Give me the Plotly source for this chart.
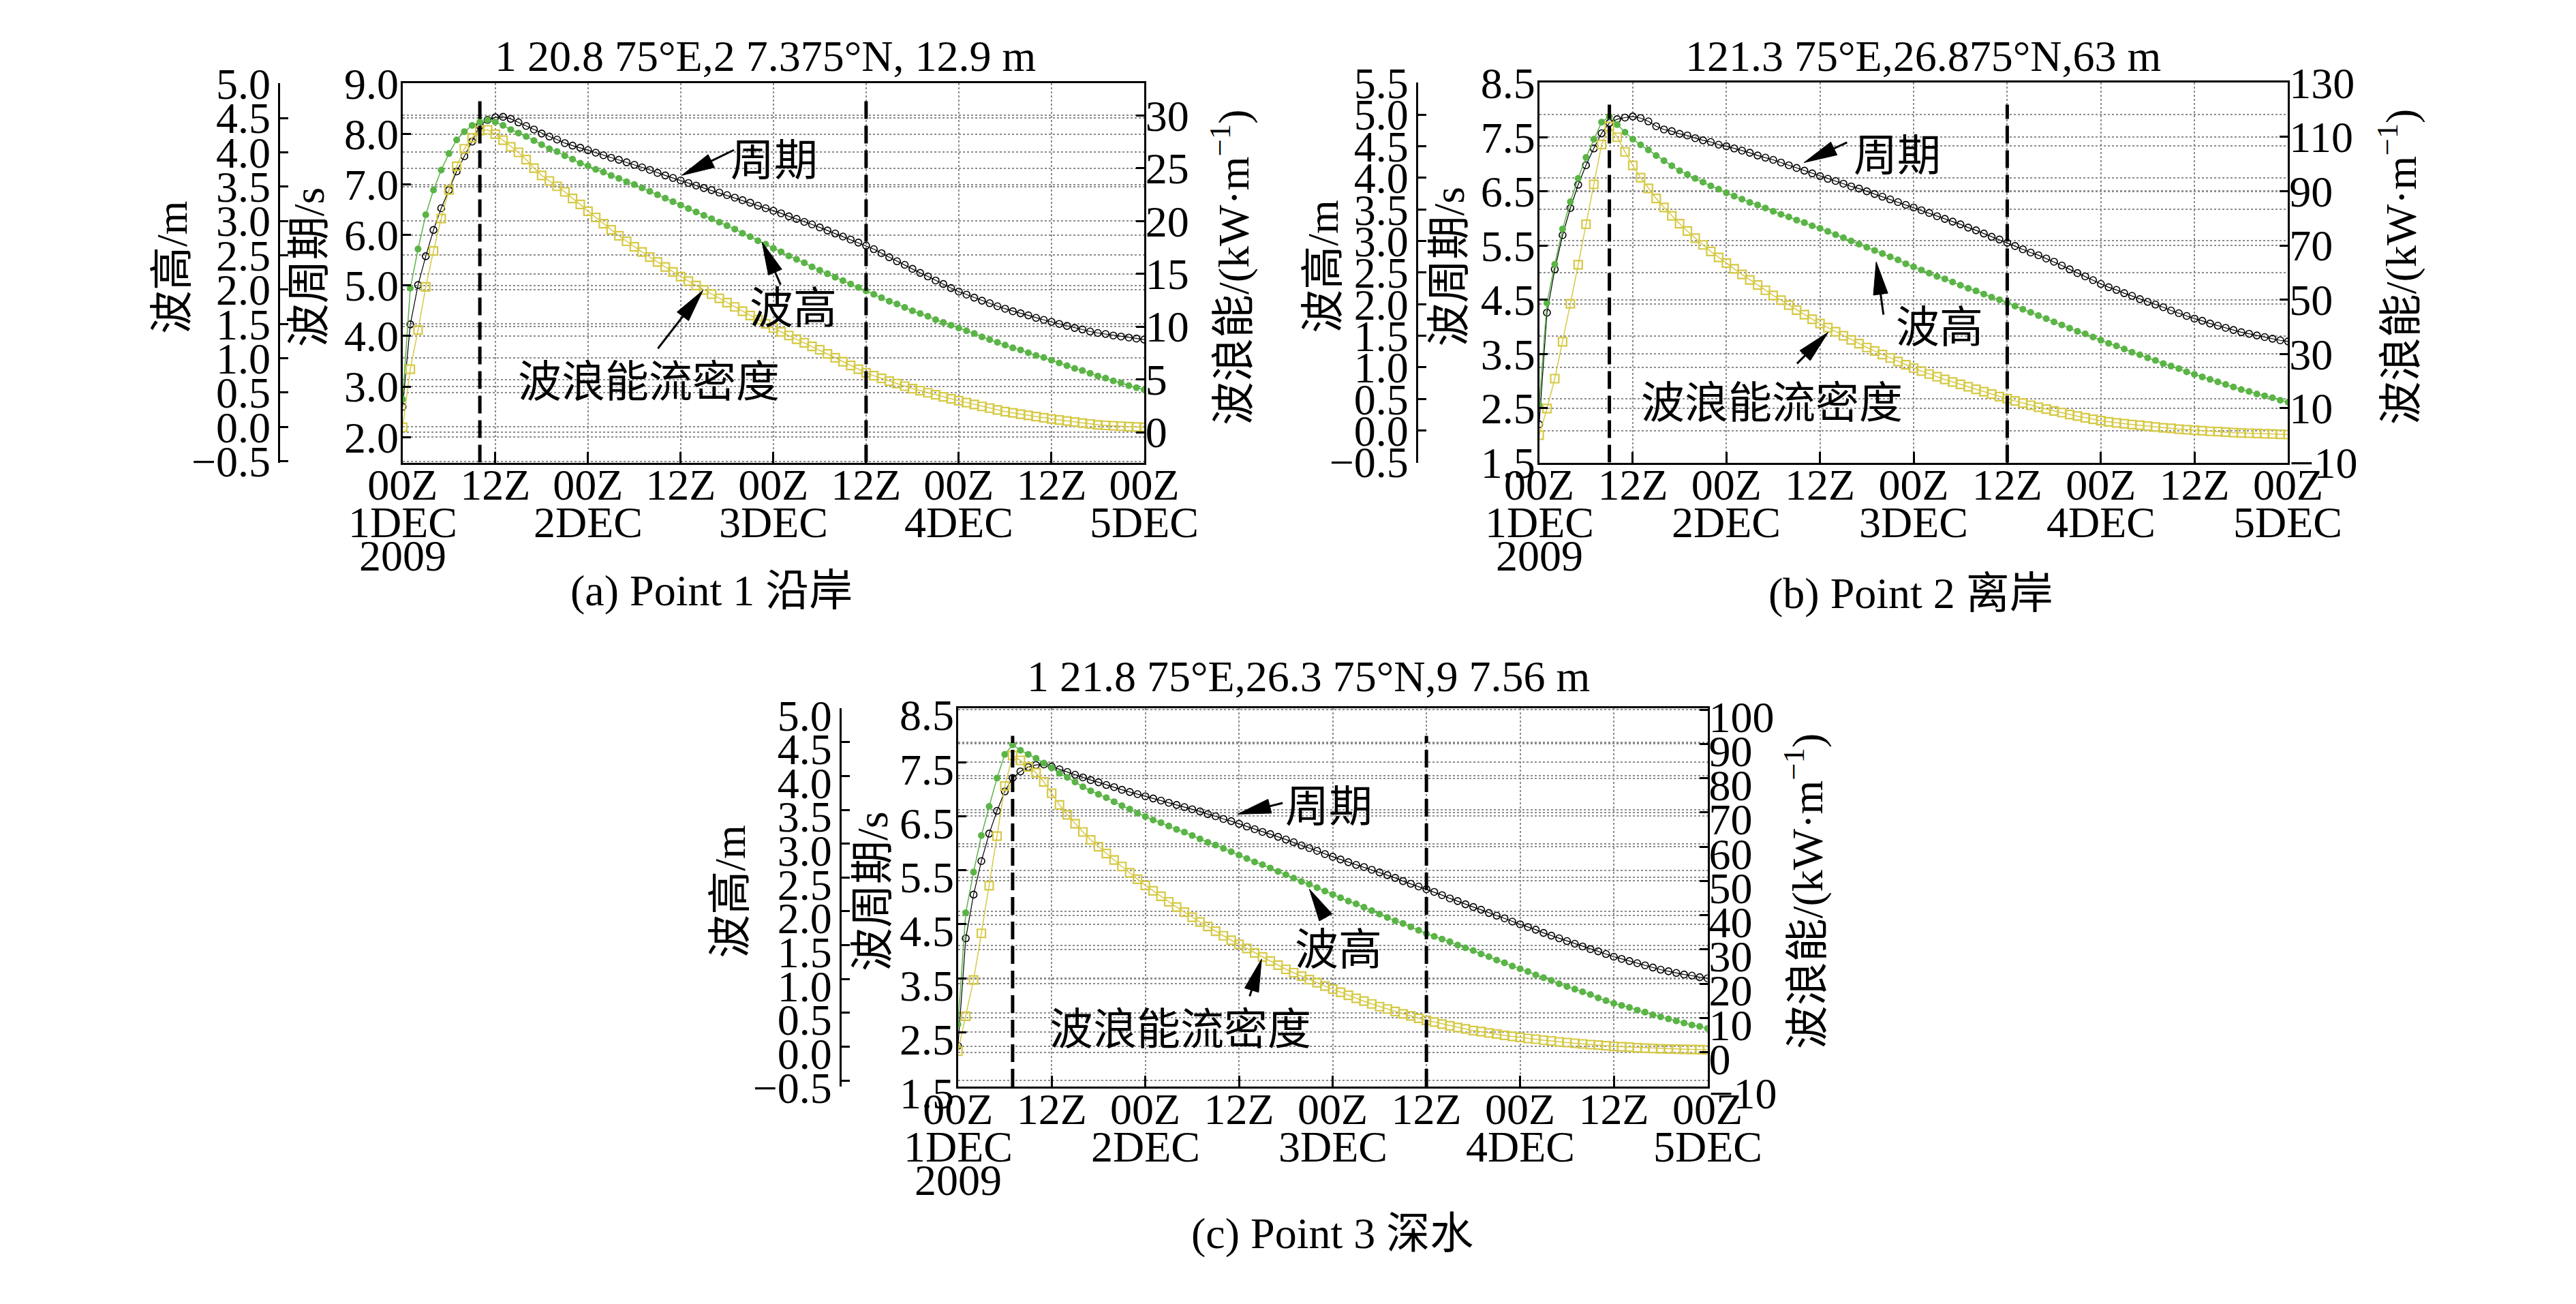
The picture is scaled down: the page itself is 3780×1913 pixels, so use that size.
import math
import plotly.graph_objects as go

W, H = 3780, 1913
FONT = "Liberation Serif, Noto Sans CJK SC"
BLACK = "#000000"
GREEN = "#5ab446"
YELLOW = "#d6c945"
GRID = "#8c8c8c"

# hourly samples, 00Z 1 DEC 2009 .. 00Z 5 DEC 2009
hours = list(range(97))
x_ticks = list(range(0, 97, 12))
x_tick_text = ["00Z", "12Z", "00Z", "12Z", "00Z", "12Z", "00Z", "12Z", "00Z"]
day_ticks = [0, 24, 48, 72, 96]
day_text = ["1DEC", "2DEC", "3DEC", "4DEC", "5DEC"]
year_text = "2009"

y_titles = ["波高/m", "波周期/s", "波浪能/(kW·m<sup>−1</sup>)"]
note_text = ["周期", "波高", "波浪能流密度"]

# Point 1 (coastal)
p1_period = [2.60, 4.23, 5.01, 5.58, 6.10, 6.53, 6.89, 7.26, 7.56, 7.85, 8.16, 8.28, 8.33,
             8.34, 8.30, 8.23, 8.16, 8.09, 8.01, 7.95, 7.89, 7.82, 7.77, 7.73, 7.68,
             7.63, 7.58, 7.53, 7.49, 7.44, 7.39,
             7.34, 7.29, 7.23, 7.18, 7.13, 7.08,
             7.03, 6.98, 6.93, 6.89, 6.84, 6.79,
             6.74, 6.69, 6.64, 6.58, 6.53, 6.48,
             6.43, 6.37, 6.32, 6.26, 6.21, 6.15,
             6.09, 6.03, 5.97, 5.91, 5.85, 5.79,
             5.72, 5.64, 5.56, 5.48, 5.41, 5.33,
             5.25, 5.18, 5.10, 5.03, 4.95, 4.88,
             4.82, 4.76, 4.70, 4.65, 4.59, 4.54,
             4.49, 4.45, 4.41, 4.36, 4.32, 4.28,
             4.24, 4.20, 4.16, 4.13, 4.09, 4.06,
             4.04, 4.01, 3.99, 3.97, 3.95, 3.93]
p1_height = [0.40, 2.02, 2.59, 3.09, 3.45, 3.74, 3.98, 4.18, 4.30, 4.39, 4.44, 4.47, 4.44,
             4.39, 4.33, 4.28, 4.23, 4.17, 4.11, 4.05, 4.01, 3.95, 3.90, 3.84, 3.80,
             3.75, 3.71, 3.66, 3.62, 3.57, 3.53,
             3.48, 3.43, 3.38, 3.33, 3.28, 3.23,
             3.18, 3.13, 3.08, 3.03, 2.98, 2.93,
             2.88, 2.82, 2.77, 2.71, 2.66, 2.60,
             2.55, 2.49, 2.44, 2.39, 2.33, 2.28,
             2.23, 2.18, 2.13, 2.08, 2.03, 1.98,
             1.93, 1.88, 1.83, 1.79, 1.74, 1.69,
             1.65, 1.61, 1.56, 1.52, 1.48, 1.44,
             1.40, 1.36, 1.31, 1.27, 1.23, 1.19,
             1.15, 1.12, 1.08, 1.04, 1.01, 0.97,
             0.93, 0.89, 0.85, 0.82, 0.78, 0.74,
             0.71, 0.67, 0.64, 0.60, 0.57, 0.54]
p1_power = [0.46, 5.96, 9.68, 13.76, 17.16, 20.23, 22.94, 25.18, 26.83, 27.87, 28.55, 28.62, 28.21,
            27.64, 27.02, 26.49, 25.80, 25.00, 24.31, 23.78, 23.28, 22.75, 22.13, 21.56, 20.92,
            20.33, 19.74, 19.16, 18.60, 18.07, 17.55,
            17.06, 16.58, 16.11, 15.64, 15.18, 14.72,
            14.30, 13.88, 13.47, 13.07, 12.67, 12.27,
            11.86, 11.45, 11.05, 10.65, 10.25, 9.86,
            9.50, 9.15, 8.80, 8.46, 8.13, 7.80,
            7.42, 7.05, 6.68, 6.32, 5.97, 5.62,
            5.35, 5.09, 4.84, 4.60, 4.36, 4.13,
            3.93, 3.73, 3.54, 3.35, 3.16, 2.98,
            2.80, 2.62, 2.44, 2.28, 2.11, 1.95,
            1.83, 1.71, 1.59, 1.48, 1.37, 1.26,
            1.16, 1.06, 0.96, 0.87, 0.78, 0.69,
            0.65, 0.61, 0.57, 0.53, 0.49, 0.46]
p1_events = [10, 60]

# Point 2 (offshore)
p2_period = [2.20, 4.26, 5.06, 5.69, 6.19, 6.62, 6.98, 7.29, 7.57, 7.76, 7.83, 7.86, 7.88,
             7.85, 7.79, 7.70, 7.64, 7.61, 7.56, 7.53, 7.48, 7.44, 7.41, 7.36, 7.33,
             7.29, 7.25, 7.21, 7.16, 7.12, 7.08,
             7.03, 6.98, 6.93, 6.88, 6.83, 6.78,
             6.73, 6.69, 6.64, 6.59, 6.55, 6.50,
             6.45, 6.40, 6.35, 6.30, 6.25, 6.20,
             6.15, 6.10, 6.04, 5.99, 5.94, 5.89,
             5.83, 5.78, 5.72, 5.66, 5.61, 5.55,
             5.49, 5.43, 5.37, 5.32, 5.26, 5.20,
             5.13, 5.06, 4.99, 4.93, 4.86, 4.79,
             4.73, 4.68, 4.62, 4.57, 4.51, 4.46,
             4.41, 4.36, 4.30, 4.25, 4.20, 4.15,
             4.11, 4.06, 4.02, 3.98, 3.94, 3.90,
             3.87, 3.84, 3.81, 3.78, 3.75, 3.73]
p2_height = [0.41, 2.02, 2.63, 3.19, 3.62, 3.99, 4.32, 4.61, 4.88, 4.97, 4.84, 4.72, 4.61,
             4.52, 4.44, 4.35, 4.27, 4.19, 4.11, 4.05, 3.99, 3.93, 3.87, 3.82, 3.76,
             3.71, 3.66, 3.61, 3.57, 3.52, 3.47,
             3.42, 3.38, 3.33, 3.29, 3.24, 3.20,
             3.15, 3.10, 3.05, 3.00, 2.95, 2.90,
             2.85, 2.80, 2.75, 2.70, 2.64, 2.59,
             2.54, 2.49, 2.44, 2.40, 2.35, 2.30,
             2.25, 2.21, 2.16, 2.11, 2.07, 2.02,
             1.97, 1.92, 1.87, 1.82, 1.77, 1.72,
             1.67, 1.62, 1.57, 1.53, 1.48, 1.43,
             1.38, 1.34, 1.29, 1.24, 1.20, 1.15,
             1.11, 1.06, 1.02, 0.98, 0.93, 0.89,
             0.85, 0.81, 0.77, 0.73, 0.69, 0.65,
             0.62, 0.58, 0.55, 0.52, 0.48, 0.45]
p2_power = [0.1, 9.9, 20.9, 34.5, 48.5, 62.9, 77.8, 92.5, 107.2, 113.9, 109.9, 104.5, 99.5,
            95.0, 91.0, 87.3, 84.0, 80.9, 78.0, 75.3, 72.7, 70.2, 67.8, 65.6, 63.5,
            61.4, 59.3, 57.3, 55.4, 53.5, 51.6,
            49.8, 48.0, 46.2, 44.5, 42.8, 41.2,
            39.7, 38.2, 36.7, 35.2, 33.8, 32.4,
            31.1, 29.8, 28.5, 27.2, 26.0, 24.8,
            23.7, 22.6, 21.6, 20.6, 19.7, 18.8,
            17.9, 17.0, 16.1, 15.2, 14.3, 13.5,
            12.7, 11.9, 11.1, 10.4, 9.7, 9.0,
            8.4, 7.7, 7.1, 6.5, 5.9, 5.4,
            5.0, 4.6, 4.3, 4.0, 3.7, 3.4,
            3.1, 2.8, 2.6, 2.3, 2.1, 1.9,
            1.7, 1.5, 1.4, 1.2, 1.0, 0.9,
            0.8, 0.7, 0.6, 0.5, 0.4, 0.3]
p2_events = [9, 60]

# Point 3 (deep water)
p3_period = [2.25, 4.24, 5.05, 5.67, 6.18, 6.60, 6.96, 7.21, 7.33, 7.41, 7.45, 7.46, 7.42,
             7.37, 7.32, 7.27, 7.22, 7.17, 7.13, 7.08, 7.04, 6.99, 6.95, 6.91, 6.87,
             6.83, 6.79, 6.75, 6.71, 6.67, 6.63,
             6.59, 6.54, 6.50, 6.45, 6.41, 6.36,
             6.31, 6.26, 6.21, 6.17, 6.12, 6.07,
             6.02, 5.96, 5.91, 5.86, 5.80, 5.75,
             5.70, 5.65, 5.60, 5.56, 5.51, 5.46,
             5.41, 5.36, 5.30, 5.25, 5.20, 5.15,
             5.10, 5.04, 4.98, 4.93, 4.87, 4.82,
             4.77, 4.71, 4.66, 4.61, 4.55, 4.50,
             4.45, 4.40, 4.34, 4.29, 4.24, 4.19,
             4.14, 4.09, 4.04, 4.00, 3.95, 3.90,
             3.86, 3.82, 3.78, 3.74, 3.70, 3.66,
             3.63, 3.60, 3.57, 3.55, 3.52, 3.50]
p3_height = [0.33, 1.98, 2.58, 3.12, 3.55, 3.97, 4.32, 4.46, 4.38, 4.32, 4.26, 4.19, 4.12,
             4.04, 3.98, 3.91, 3.84, 3.78, 3.73, 3.68, 3.62, 3.56, 3.51, 3.45, 3.40,
             3.35, 3.31, 3.26, 3.21, 3.17, 3.12,
             3.07, 3.02, 2.98, 2.93, 2.88, 2.83,
             2.78, 2.73, 2.69, 2.64, 2.59, 2.54,
             2.49, 2.44, 2.40, 2.35, 2.30, 2.25,
             2.20, 2.15, 2.11, 2.06, 2.01, 1.96,
             1.91, 1.86, 1.82, 1.77, 1.72, 1.67,
             1.63, 1.59, 1.55, 1.50, 1.46, 1.42,
             1.37, 1.33, 1.28, 1.24, 1.19, 1.15,
             1.11, 1.06, 1.02, 0.98, 0.93, 0.89,
             0.85, 0.81, 0.77, 0.72, 0.68, 0.64,
             0.61, 0.58, 0.54, 0.51, 0.47, 0.44,
             0.41, 0.38, 0.35, 0.32, 0.30, 0.27]
p3_power = [0.3, 10.5, 21.1, 34.7, 48.6, 63.1, 77.7, 86.6, 85.2, 83.3, 81.6, 78.9, 75.6,
            72.2, 69.3, 66.7, 64.3, 62.0, 60.0, 58.0, 56.1, 54.2, 52.4, 50.5, 48.7,
            47.1, 45.5, 43.9, 42.4, 40.9, 39.4,
            38.0, 36.7, 35.3, 34.0, 32.7, 31.5,
            30.3, 29.0, 27.8, 26.6, 25.4, 24.2,
            23.2, 22.2, 21.2, 20.3, 19.3, 18.4,
            17.5, 16.6, 15.7, 14.9, 14.1, 13.3,
            12.6, 11.9, 11.2, 10.6, 9.9, 9.3,
            8.8, 8.2, 7.7, 7.2, 6.8, 6.3,
            6.0, 5.6, 5.3, 4.9, 4.6, 4.3,
            4.0, 3.8, 3.5, 3.3, 3.0, 2.8,
            2.6, 2.4, 2.2, 2.1, 1.9, 1.7,
            1.6, 1.5, 1.3, 1.2, 1.1, 1.0,
            0.95, 0.9, 0.85, 0.8, 0.75, 0.7]
p3_events = [7, 60]

# layout of each panel (pixel boxes in the 3780x1913 page)
panels = [
    dict(period=p1_period, height=p1_height, power=p1_power, events=p1_events, event_top=8.66,
         title="1 20.8 75°E,2 7.375°N, 12.9 m", title_xy=(1101, 50),
         caption="(a) Point 1 沿岸", caption_xy=(1020, 868),
         box=(554, 91, 1673, 672), spine=367, title_dx=(-161, -141, 130), label_shift=0,
         period_axis=dict(range=[1.495, 9.005], tick0=2, dtick=1),
         height_axis=dict(range=[-0.52, 5.005], tick0=0, dtick=0.5),
         power_axis=dict(range=[-2.87, 33.03], tick0=0, dtick=5),
         notes=[(36.12, 7.18, 0, (79, -39), (136, -22)),
                (46.53, 2.69, 1, (28, 65), (46, 97)),
                (38.88, 13.42, 2, (-68, 89), (-79, 134))]),
    dict(period=p2_period, height=p2_height, power=p2_power, events=p2_events, event_top=8.10,
         title="121.3 75°E,26.875°N,63 m", title_xy=(2848, 50),
         caption="(b) Point 2 离岸", caption_xy=(2830, 872),
         box=(2269, 90, 3399, 672), spine=2084, title_dx=(-141, -136, 165), label_shift=0,
         period_axis=dict(range=[1.495, 8.505], tick0=1.5, dtick=1),
         height_axis=dict(range=[-0.505, 5.505], tick0=0, dtick=0.5),
         power_axis=dict(range=[-10.01, 130.01], tick0=-10, dtick=20),
         notes=[(33.95, 7.03, 0, (65, -31), (137, -10)),
                (43.2, 2.67, 1, (11, 81), (93, 96)),
                (37.05, 38.0, 2, (-47, 48), (-83, 104))]),
    dict(period=p3_period, height=p3_height, power=p3_power, events=p3_events, event_top=7.99,
         title="1 21.8 75°E,26.3 75°N,9 7.56 m", title_xy=(1921, 1000),
         caption="(c) Point 3 深水", caption_xy=(1957, 1853),
         box=(1392, 1048, 2523, 1628), spine=1214, title_dx=(-165, -129, 146), label_shift=10,
         period_axis=dict(range=[1.495, 8.505], tick0=1.5, dtick=1),
         height_axis=dict(range=[-0.59, 5.005], tick0=0, dtick=0.5),
         power_axis=dict(range=[-10.05, 100.5], tick0=0, dtick=10),
         notes=[(35.82, 6.54, 0, (68, -17), (134, -11)),
                (45.0, 2.33, 1, (25, 44), (43, 89)),
                (38.89, 27.2, 2, (-18, 57), (-119, 104))]),
]
axis_keys = ["period_axis", "height_axis", "power_axis"]

tick_font = dict(family=FONT, size=64, color=BLACK)
axis_common = dict(showline=True, linecolor=BLACK, linewidth=3, ticks="inside", ticklen=12,
                   tickwidth=3, tickcolor=BLACK, showgrid=True, gridcolor=GRID, griddash="dot",
                   gridwidth=2, zeroline=False, tickfont=tick_font)


def to_px(p, k, h, v):
    left, top, right, bottom = p["box"]
    r0, r1 = p[axis_keys[k]]["range"]
    return left + h / 96 * (right - left), top + (r1 - v) / (r1 - r0) * (bottom - top)


def to_data(p, k, x, y):
    left, top, right, bottom = p["box"]
    r0, r1 = p[axis_keys[k]]["range"]
    return (x - left) / (right - left) * 96, r1 - (y - top) / (bottom - top) * (r1 - r0)


fig = go.Figure()
layout = {}
annotations = []
shapes = []

for i, p in enumerate(panels):
    n = i + 1
    xa = "x" if n == 1 else f"x{n}"
    xkey = "xaxis" if n == 1 else f"xaxis{n}"
    ids = [3 * i + 1, 3 * i + 2, 3 * i + 3]
    ya = ["y" if k == 1 else f"y{k}" for k in ids]
    ykey = ["yaxis" if k == 1 else f"yaxis{k}" for k in ids]
    left, top, right, bottom = p["box"]
    xdom = [left / W, right / W]
    ydom = [1 - bottom / H, 1 - top / H]
    shift_y = p["label_shift"]

    # period (black), wave height (green), energy flux (yellow)
    fig.add_trace(go.Scatter(x=hours, y=p["period"], xaxis=xa, yaxis=ya[0], mode="lines+markers",
                             line=dict(color=BLACK, width=1.2),
                             marker=dict(symbol="circle-open", size=10, color=BLACK, line=dict(width=1.6))))
    fig.add_trace(go.Scatter(x=hours, y=p["height"], xaxis=xa, yaxis=ya[1], mode="lines+markers",
                             line=dict(color=GREEN, width=1.5),
                             marker=dict(symbol="circle", size=10, color=GREEN)))
    fig.add_trace(go.Scatter(x=hours, y=p["power"], xaxis=xa, yaxis=ya[2], mode="lines+markers",
                             line=dict(color=YELLOW, width=1.5),
                             marker=dict(symbol="square-open", size=12, color=YELLOW, line=dict(width=2.2))))

    layout[xkey] = dict(axis_common, domain=xdom, anchor=ya[0], range=[0, 96], tickvals=x_ticks,
                        ticktext=x_tick_text, mirror=True, ticklen=16, ticklabelstandoff=-25)
    layout[ykey[0]] = dict(axis_common, domain=ydom, anchor=xa, side="left", tickformat=".1f",
                           ticklabelstandoff=-10, ticklabelshift=shift_y, **p["period_axis"])
    layout[ykey[1]] = dict(axis_common, domain=ydom, overlaying=ya[0], anchor="free",
                           position=p["spine"] / W, side="left", tickformat=".1f",
                           ticklabelstandoff=-2, ticklabelshift=shift_y, **p["height_axis"])
    layout[ykey[2]] = dict(axis_common, domain=ydom, overlaying=ya[0], anchor=xa, side="right",
                           ticklabelstandoff=-14, ticklabelshift=shift_y, **p["power_axis"])

    # event markers
    for t in p["events"]:
        shapes.append(dict(type="line", xref=xa, yref=ya[0], x0=t, x1=t,
                           y0=p["period_axis"]["range"][0], y1=p["event_top"],
                           line=dict(color=BLACK, width=5, dash="26px,10px")))

    # date labels under the 00Z/12Z ticks
    for t, txt in zip(day_ticks, day_text):
        annotations.append(dict(xref=xa, yref="paper", x=t, y=1 - (bottom + 92) / H, text=txt,
                                showarrow=False, xanchor="center", yanchor="middle", font=tick_font))
    annotations.append(dict(xref=xa, yref="paper", x=0, y=1 - (bottom + 143) / H, text=year_text,
                            showarrow=False, xanchor="center", yanchor="middle", font=tick_font))

    # titles and captions
    tx, ty = p["title_xy"]
    annotations.append(dict(xref="paper", yref="paper", x=tx / W, y=1 - ty / H, text=p["title"],
                            showarrow=False, xanchor="center", yanchor="middle", font=tick_font))
    cx, cy = p["caption_xy"]
    annotations.append(dict(xref="paper", yref="paper", x=cx / W, y=1 - cy / H, text=p["caption"],
                            showarrow=False, xanchor="center", yanchor="middle", font=tick_font))

    # axis titles
    mid = (top + bottom) / 2 - 9
    title_x = [p["spine"] + p["title_dx"][0], left + p["title_dx"][1], right + p["title_dx"][2]]
    for txt, x in zip(y_titles, title_x):
        annotations.append(dict(xref="paper", yref="paper", x=x / W, y=1 - mid / H, text=txt,
                                textangle=-90, showarrow=False, xanchor="center", yanchor="middle",
                                font=tick_font))

    # curve labels with arrows (arrow drawn as shapes on the curve's own axes)
    for hx, val, k, tail, shift in p["notes"]:
        tipx, tipy = to_px(p, k, hx, val)
        tlx, tly = tipx + tail[0], tipy + tail[1]
        d = math.hypot(tipx - tlx, tipy - tly)
        ux, uy = (tipx - tlx) / d, (tipy - tly) / d
        bx, by = tipx - ux * 50, tipy - uy * 50
        nx, ny = -uy * 11, ux * 11
        p0 = to_data(p, k, tlx, tly)
        pb = to_data(p, k, bx + ux * 4, by + uy * 4)
        shapes.append(dict(type="line", xref=xa, yref=ya[k], x0=p0[0], y0=p0[1], x1=pb[0], y1=pb[1],
                           line=dict(color=BLACK, width=3)))
        a = to_data(p, k, tipx, tipy)
        b = to_data(p, k, bx + nx, by + ny)
        c = to_data(p, k, bx - nx, by - ny)
        shapes.append(dict(type="path", xref=xa, yref=ya[k],
                           path=f"M {a[0]},{a[1]} L {b[0]},{b[1]} L {c[0]},{c[1]} Z",
                           fillcolor=BLACK, line=dict(color=BLACK, width=1)))
        annotations.append(dict(xref=xa, yref=ya[k], x=hx, y=val, text=note_text[k], showarrow=False,
                                xanchor="center", yanchor="middle",
                                xshift=shift[0], yshift=-shift[1], font=tick_font))

fig.update_layout(
    width=W, height=H, autosize=False,
    margin=dict(l=0, r=0, t=0, b=0),
    paper_bgcolor="white", plot_bgcolor="white",
    showlegend=False, hovermode=False,
    font=dict(family=FONT, size=64, color=BLACK),
    annotations=annotations, shapes=shapes,
    **layout,
)

fig.write_html("out.html", config={"displayModeBar": False},
               post_script="document.body.style.margin='0';")
